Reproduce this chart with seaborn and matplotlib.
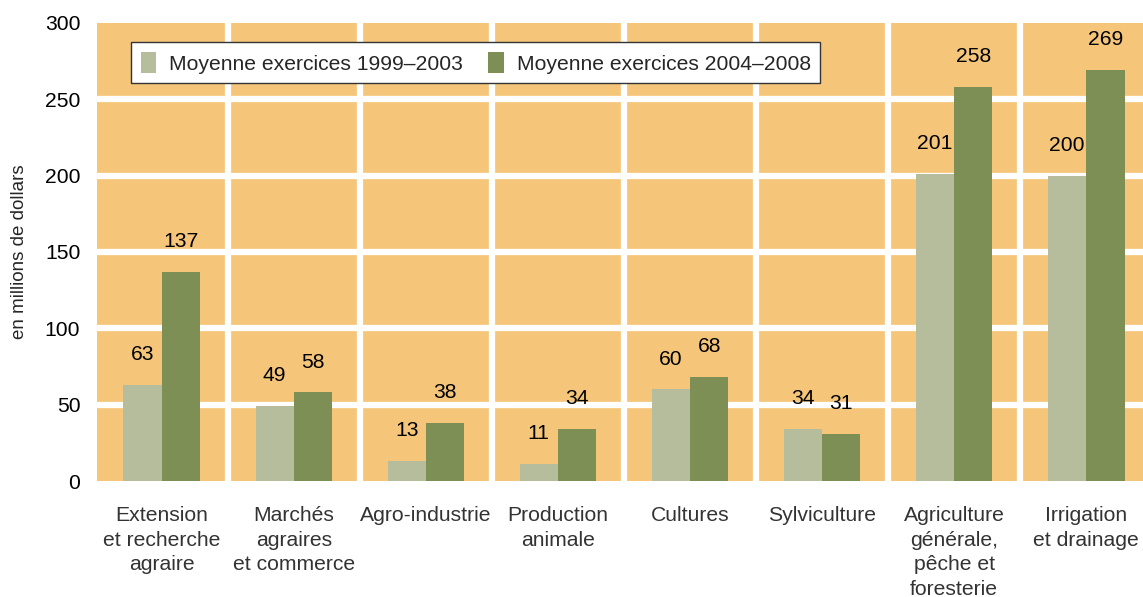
import pandas as pd
import matplotlib
matplotlib.use("Agg")
import matplotlib.pyplot as plt
import seaborn as sns

# Data
categories = [
    "Extension\net recherche\nagraire",
    "Marchés\nagraires\net commerce",
    "Agro-industrie",
    "Production\nanimale",
    "Cultures",
    "Sylviculture",
    "Agriculture\ngénérale,\npêche et\nforesterie",
    "Irrigation\net drainage",
]
series_names = ["Moyenne exercices 1999–2003", "Moyenne exercices 2004–2008"]
values_1999_2003 = [63, 49, 13, 11, 60, 34, 201, 200]
values_2004_2008 = [137, 58, 38, 34, 68, 31, 258, 269]
y_ticks = [0, 50, 100, 150, 200, 250, 300]

df = pd.DataFrame({
    "categorie": categories * 2,
    "periode": [series_names[0]] * len(categories) + [series_names[1]] * len(categories),
    "valeur": values_1999_2003 + values_2004_2008,
})

sns.set_theme(style="white")
plt.rcParams["font.family"] = ["Liberation Sans", "DejaVu Sans"]

bg = "#F5C67A"
palette = {series_names[0]: "#B6BD9C", series_names[1]: "#7E8F55"}
fs = 15.2

fig = plt.figure(figsize=(11.43, 5.97), dpi=100)
ax = fig.add_axes([0.0849, 0.1943, 0.9151, 0.7672])
ax.set_facecolor(bg)

sns.barplot(data=df, x="categorie", y="valeur", hue="periode", palette=palette,
            width=0.58, gap=0, saturation=1, linewidth=0, ax=ax, zorder=3)

# white grid
for y in y_ticks[1:-1]:
    ax.axhline(y, color="white", lw=4.5, zorder=1)
for i in range(len(categories) - 1):
    ax.axvline(i + 0.5, color="white", lw=4.5, zorder=1)

for cont in ax.containers:
    ax.bar_label(cont, fmt="%d", padding=15, fontsize=fs, color="black")

ax.set_xlim(-0.49, 7.43)
ax.set_ylim(0, 300)
ax.set_yticks(y_ticks)
ax.tick_params(axis="both", length=0, labelsize=fs)
ax.tick_params(axis="y", pad=12, labelcolor="black")
ax.tick_params(axis="x", pad=18, labelcolor="#333333")
for lab in ax.get_xticklabels():
    lab.set_linespacing(1.38)
ax.set_xlabel("")
ax.set_ylabel("en millions de dollars", fontsize=13.5, labelpad=12)
for s in ax.spines.values():
    s.set_visible(False)

handles, labels = ax.get_legend_handles_labels()
leg = ax.legend(handles, labels, ncol=2, loc="upper left",
                bbox_to_anchor=(0.0325, 0.958), borderaxespad=0,
                fontsize=fs, frameon=True, fancybox=False, framealpha=1,
                facecolor="white", edgecolor="#333333",
                handlelength=0.75, handleheight=1.2, handletextpad=0.6,
                columnspacing=1.2, borderpad=0.45)
leg.get_frame().set_linewidth(1.0)

fig.savefig("out.png", dpi=100)
